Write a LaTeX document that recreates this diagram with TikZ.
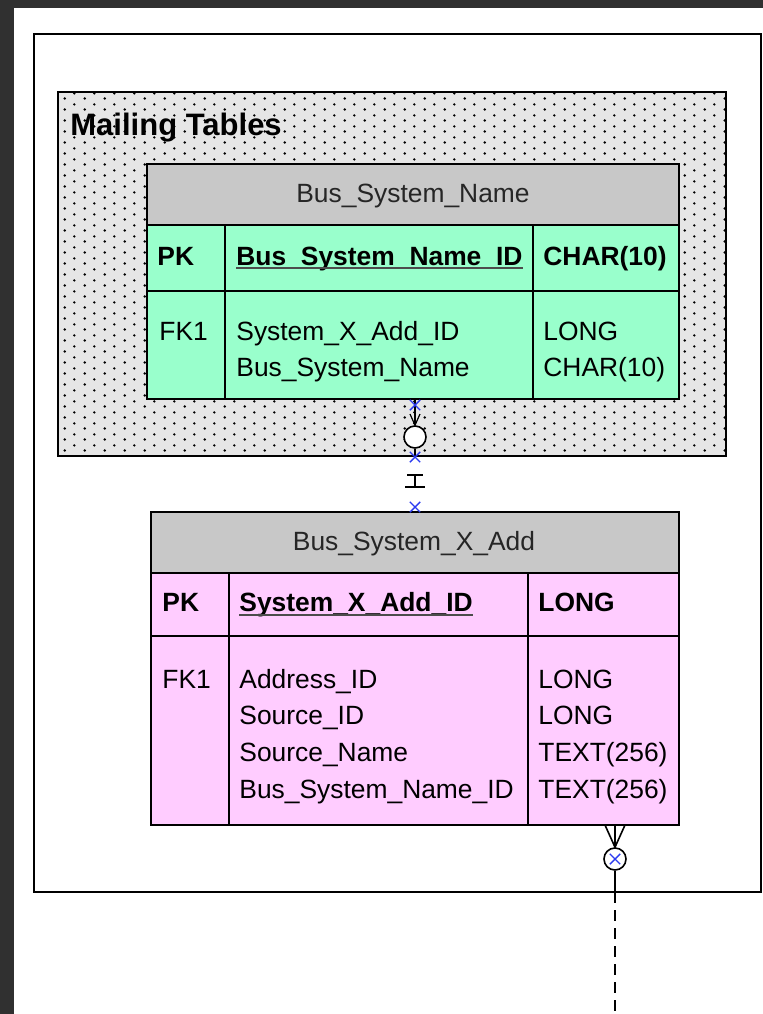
\documentclass[tikz,border=0pt]{standalone}
\usepackage{fontspec}
\setmainfont{Liberation Sans}
\usetikzlibrary{patterns.meta,shapes.misc}
\definecolor{mintrow}{HTML}{99FFCC}
\definecolor{pinkrow}{HTML}{FFCCFF}
\definecolor{headgray}{HTML}{C8C8C8}
\definecolor{panelgray}{HTML}{E6E6E6}
\definecolor{screenedge}{HTML}{303030}
\definecolor{markblue}{HTML}{2B3BF0}
\tikzdeclarepattern{
  name=stipple, type=uncolored,
  bounding box={(0,0) and (10pt,5.5pt)},
  tile size={(10pt,5.5pt)},
  code={\fill (2.5pt,1.375pt) circle (0.7pt); \fill (7.5pt,4.125pt) circle (0.7pt);}
}
\tikzset{
  tablerule/.style={line width=1pt},
  cell/.style={anchor=base west, inner sep=0pt, font=\fontsize{13.2}{18.35}\selectfont},
  keycell/.style={cell, font=\fontsize{13.2}{18.35}\selectfont\bfseries},
  headcell/.style={anchor=base, inner sep=0pt, text=black!85, font=\fontsize{13.2}{18.35}\selectfont},
  bluex/.style={cross out, draw=markblue, line width=0.7pt, minimum size=4.5pt, inner sep=0pt},
  optring/.style={circle, draw, line width=0.8pt, fill=white, minimum size=11pt, inner sep=0pt}
}

\begin{document}
\begin{tikzpicture}[x=0.5pt,y=-0.5pt]
\useasboundingbox (0,0) rectangle (763,1014);
\fill[screenedge] (0,0) rectangle (763,8);
\fill[screenedge] (0,0) rectangle (14,1014);
\draw[line width=1pt] (33.5,33.5) rectangle (761,892);

% dotted group
\draw[line width=1.2pt, preaction={fill=panelgray}, pattern=stipple, pattern color=black] (58,92) rectangle (726,456);
\node[anchor=base west, inner sep=0pt, font=\fontsize{15.5}{18}\selectfont\bfseries] (groupTitle) at (70,135) {Mailing Tables};

% Bus_System_Name
\filldraw[tablerule, fill=headgray] (147,164) rectangle (679,225);
\filldraw[tablerule, fill=mintrow] (147,225) rectangle (679,291);
\filldraw[tablerule, fill=mintrow] (147,291) rectangle (679,399);
\draw[tablerule] (225,225) -- (225,399);
\draw[tablerule] (533,225) -- (533,399);
\node[headcell] (nameHead) at (413,202) {Bus\_System\_Name};
\node[keycell] (namePK) at (157,265) {PK};
\node[keycell] (nameKey) at (236,265) {Bus\_System\_Name\_ID};
\node[keycell] (nameKeyType) at (543,265) {CHAR(10)};
\draw[line width=1pt, black!70] ([yshift=-1.5pt]nameKey.base west) -- ([yshift=-1.5pt]nameKey.base east);
\node[cell] (nameFK) at (159,340) {FK1};
\node[cell] (nameColA) at (236,340) {System\_X\_Add\_ID};
\node[cell] (nameColB) at (236,376.7) {Bus\_System\_Name};
\node[cell] (nameTypeA) at (543,340) {LONG};
\node[cell] (nameTypeB) at (543,376.7) {CHAR(10)};

% Bus_System_X_Add
\filldraw[tablerule, fill=headgray] (151,512) rectangle (679,573);
\filldraw[tablerule, fill=pinkrow] (151,573) rectangle (679,636);
\filldraw[tablerule, fill=pinkrow] (151,636) rectangle (679,825);
\draw[tablerule] (229,573) -- (229,825);
\draw[tablerule] (528,573) -- (528,825);
\node[headcell] (addHead) at (414,550) {Bus\_System\_X\_Add};
\node[keycell] (addPK) at (162,611.7) {PK};
\node[keycell] (addKey) at (239,611.7) {System\_X\_Add\_ID};
\node[keycell] (addKeyType) at (538,611.7) {LONG};
\draw[line width=1pt, black!70] ([yshift=-1.5pt]addKey.base west) -- ([yshift=-1.5pt]addKey.base east);
\node[cell] (addFK) at (162,688) {FK1};
\node[cell] (addColA) at (239,688) {Address\_ID};
\node[cell] (addColB) at (239,724.7) {Source\_ID};
\node[cell] (addColC) at (239,761.3) {Source\_Name};
\node[cell] (addColD) at (239,798) {Bus\_System\_Name\_ID};
\node[cell] (addTypeA) at (538,688) {LONG};
\node[cell] (addTypeB) at (538,724.7) {LONG};
\node[cell] (addTypeC) at (538,761.3) {TEXT(256)};
\node[cell] (addTypeD) at (538,798) {TEXT(256)};

% relationship between the two tables
\coordinate (nameFoot) at (415,399);
\coordinate (barTop) at (415,475);
\coordinate (barBot) at (415,487);
\node[optring] (ringA) at (415,437) {};
\draw[line width=0.8pt] (nameFoot) -- (ringA.north);
\draw[line width=0.6pt] (410,414) -- (ringA.north) -- (420,414);
\draw[line width=0.8pt] (ringA.south) -- (415,457);
\draw[line width=1pt] (barTop) -- (barBot);
\draw[line width=1pt] ([xshift=-4pt]barTop) -- ([xshift=4pt]barTop);
\draw[line width=1pt] ([xshift=-5pt]barBot) -- ([xshift=5pt]barBot);
\node[bluex] (markA) at (415,405) {};
\node[bluex] (markB) at (415,457) {};
\node[bluex] (markC) at (415,507) {};

% outgoing relationship
\coordinate (addFoot) at (615,825);
\coordinate (frameFoot) at (615,892);
\coordinate (pageFoot) at (615,1014);
\node[optring] (ringB) at (615,859) {};
\draw[line width=0.8pt] (addFoot) -- (ringB.north);
\draw[line width=0.8pt] (605,825) -- (ringB.north) -- (625,825);
\node[bluex] (markD) at (ringB) {};
\draw[line width=0.8pt] (ringB.south) -- (frameFoot);
\draw[line width=1.3pt, dash pattern=on 5.5pt off 3.5pt] (frameFoot) -- (pageFoot);
\end{tikzpicture}
\end{document}
